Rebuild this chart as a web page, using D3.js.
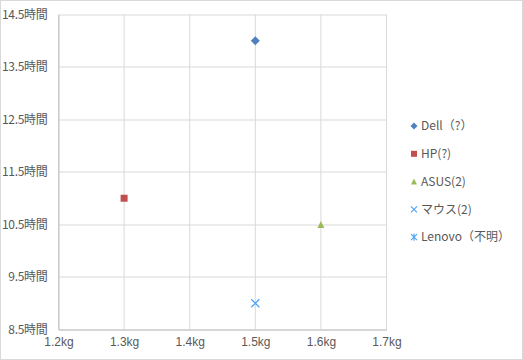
<!DOCTYPE html>
<html><head><meta charset="utf-8">
<script src="https://cdn.jsdelivr.net/npm/d3@7"></script>
<style>body{margin:0;background:#fff}svg{display:block}text{font-family:"Noto Sans CJK JP","Noto Sans",sans-serif}</style>
</head><body>
<svg id="c" width="523" height="360"></svg>
<script>
const seriesNames = ["Dell（?）", "HP(?)", "ASUS(2)", "マウス(2)", "Lenovo（不明）"];
const weights = [1.5, 1.3, 1.6, 1.5, null];
const hours = [14.0, 11.0, 10.5, 9.0, null];
const colors = ["#4F81BD", "#C0504D", "#9BBB59", "#4AA3F5", "#4AA3F5"];
const symbols = ["diamond", "square", "triangle", "x", "star"];
const xTicks = [1.2, 1.3, 1.4, 1.5, 1.6, 1.7];
const yTicks = [8.5, 9.5, 10.5, 11.5, 12.5, 13.5, 14.5];

const svg = d3.select("#c");
svg.append("rect").attr("x",0.5).attr("y",0.5).attr("width",522).attr("height",359)
  .attr("fill","#fff").attr("stroke","#D9D9D9");

const x = d3.scaleLinear().domain([1.2,1.7]).range([58.5,386.5]);
const y = d3.scaleLinear().domain([8.5,14.5]).range([329.5,14.5]);

const g = svg.append("g");
g.selectAll(".hg").data(yTicks).join("line")
  .attr("x1",x(1.2)).attr("x2",x(1.7)).attr("y1",d=>Math.round(y(d))+0.5-0.5).attr("y2",d=>Math.round(y(d))+0.5-0.5)
  .attr("stroke","#D9D9D9");
g.selectAll(".vg").data(xTicks).join("line")
  .attr("y1",y(8.5)).attr("y2",y(14.5)).attr("x1",d=>x(d)).attr("x2",d=>x(d))
  .attr("stroke","#D9D9D9");

const xAxis = d3.axisBottom(x).tickValues(xTicks).tickSize(0).tickPadding(8).tickFormat(d=>d.toFixed(1)+"kg");
const xa = svg.append("g").attr("transform",`translate(0,${y(8.5)})`).call(xAxis);
xa.select(".domain").attr("stroke","#BFBFBF");
xa.selectAll("text").attr("fill","#595959").style("font-size","12px").style("font-family","'Liberation Sans','Noto Sans CJK JP',sans-serif");

const yAxis = d3.axisLeft(y).tickValues(yTicks).tickSize(0).tickPadding(11).tickFormat(d=>d.toFixed(1)+"時間");
const ya = svg.append("g").attr("transform",`translate(${x(1.2)},0)`).call(yAxis);
ya.select(".domain").attr("stroke","#BFBFBF");
ya.selectAll("text").attr("fill","#595959").style("font-size","12px").attr("letter-spacing","-0.3px");

function sym(i, r){
  const t = symbols[i];
  if(t==="diamond") return `M0,${-r}L${r},0L0,${r}L${-r},0Z`;
  if(t==="square") return `M${-r},${-r}H${r}V${r}H${-r}Z`;
  if(t==="triangle") return `M0,${-r}L${r},${r}H${-r}Z`;
  if(t==="x") return `M${-r},${-r}L${r},${r}M${r},${-r}L${-r},${r}`;
  return `M${-r},${-r}L${r},${r}M${r},${-r}L${-r},${r}M0,${-r*1.2}V${r*1.2}`;
}
const stroked = t => t==="x"||t==="star";

const pts = seriesNames.map((n,i)=>({i,w:weights[i],h:hours[i]})).filter(d=>d.w!=null);
svg.selectAll(".pt").data(pts).join("path")
  .attr("transform",d=>`translate(${x(d.w)},${y(d.h)})`)
  .attr("d",d=>sym(d.i, symbols[d.i]==="diamond"?4.5:symbols[d.i]==="x"?4:3.5))
  .attr("fill",d=>stroked(symbols[d.i])?"none":colors[d.i])
  .attr("stroke",d=>stroked(symbols[d.i])?colors[d.i]:"none")
  .attr("stroke-width",1.2);

const lg = svg.append("g");
seriesNames.forEach((n,i)=>{
  const yy = 126 + i*27.8;
  lg.append("path").attr("transform",`translate(414,${yy})`).attr("d",sym(i, symbols[i]==="diamond"?3.5:3))
    .attr("fill",stroked(symbols[i])?"none":colors[i])
    .attr("stroke",stroked(symbols[i])?colors[i]:"none").attr("stroke-width",1.1);
  lg.append("text").attr("x",421).attr("y",yy).attr("dy","0.35em")
    .attr("fill","#595959").style("font-size","12px").text(n);
});
</script>
</body></html>
